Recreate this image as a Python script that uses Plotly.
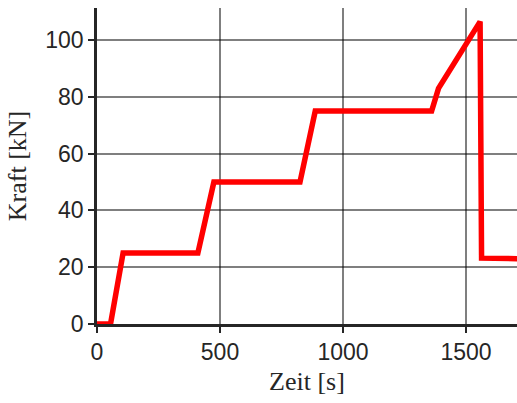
import plotly.graph_objects as go

zeit_s = [0, 55, 106, 410, 475, 825, 887, 1360, 1388, 1557, 1563, 1720]
kraft_kN = [0, 0, 25, 25, 50, 50, 75, 75, 83, 106.5, 23.2, 23.0]

x_ticks = [0, 500, 1000, 1500]
y_ticks = [0, 20, 40, 60, 80, 100]

fig = go.Figure()
fig.add_trace(go.Scatter(
    x=zeit_s, y=kraft_kN, mode="lines",
    line=dict(color="#ff0000", width=5.5),
    showlegend=False,
))

axis_common = dict(
    showgrid=True, gridcolor="rgba(0,0,0,0.5)", gridwidth=2,
    zeroline=False, showline=True, linecolor="#262626", linewidth=2.5,
    ticks="outside", ticklen=6, tickwidth=2, tickcolor="#262626",
    tickfont=dict(family="Liberation Sans, Arial", size=23, color="#262626"),
    automargin=False,
)

fig.update_layout(
    width=517, height=403,
    margin=dict(l=97, r=0, t=8, b=79),
    paper_bgcolor="white", plot_bgcolor="white",
    xaxis=dict(range=[0, 1707], tickvals=x_ticks,
               title=dict(text="Zeit [s]", font=dict(family="Liberation Serif, serif", size=26, color="#262626"), standoff=8),
               **axis_common),
    yaxis=dict(range=[0, 111.3], tickvals=y_ticks,
               title=dict(text="Kraft [kN]", font=dict(family="Liberation Serif, serif", size=26, color="#262626"), standoff=12),
               **axis_common),
)

fig.write_html(
    "out.html",
    config={"displayModeBar": False},
    post_script="document.body.style.margin='0';document.body.style.overflow='hidden';",
)
